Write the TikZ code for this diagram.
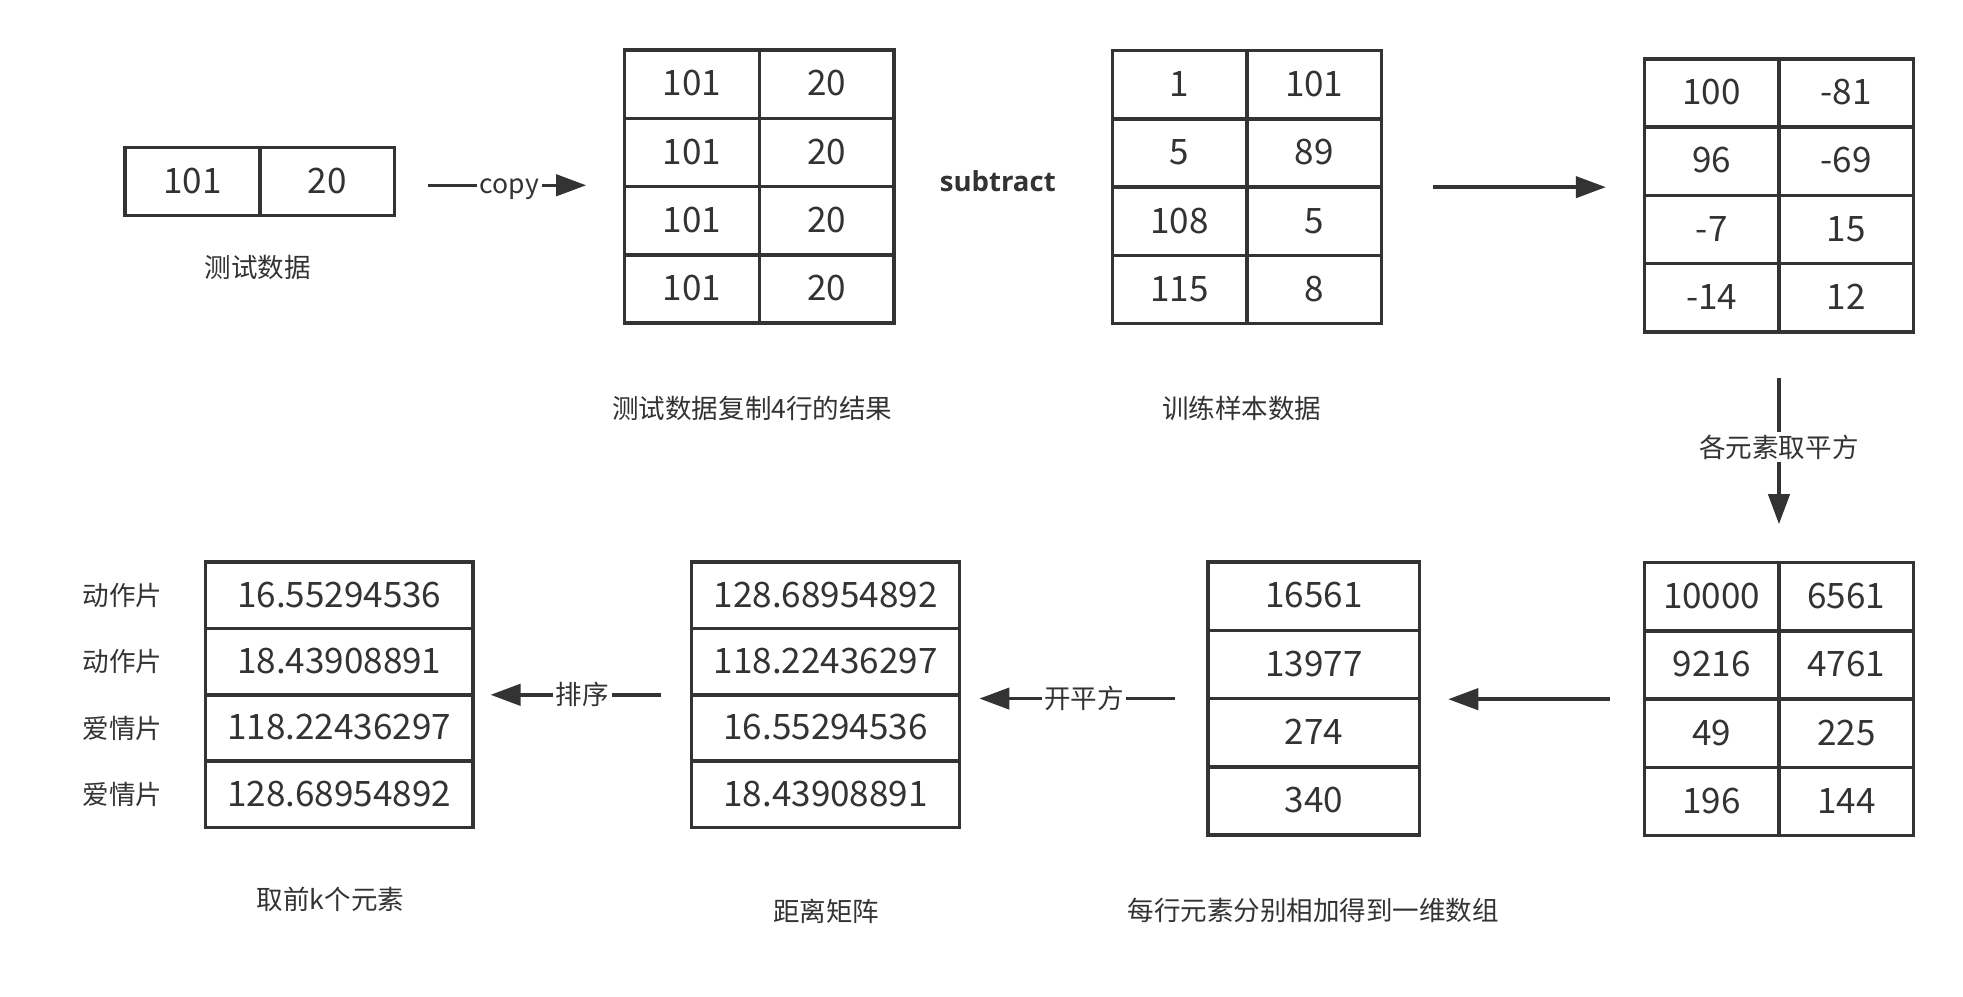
\documentclass[tikz,border=0pt]{standalone}
\usepackage{fontspec}
\newfontfamily\cjk{Noto Sans CJK SC}
\newfontfamily\latinfont{Open Sans}
\usetikzlibrary{matrix, arrows.meta, positioning}
\definecolor{ink}{HTML}{333333}
\tikzset{
  num_font/.style = {font=\cjk\fontsize{14}{16}\selectfont},
  label_font/.style = {font=\cjk\fontsize{10.6}{12}\selectfont},
  bold_font/.style = {font=\latinfont\bfseries\fontsize{11}{13}\selectfont}
}
\tikzset{
  cell/.style = {num_font, draw=ink, text=ink, line width=1.4pt, inner sep=0, outer sep=0,
    anchor=center, text height=9.4pt, text depth=0pt,
    minimum width=53.75pt, minimum height=27.25pt},
  wide_cell/.style = {cell, minimum width=107pt, minimum height=26.5pt},
  mid_cell/.style = {cell, minimum width=84.5pt},
  table/.style = {matrix of nodes, inner sep=0, column sep=-1.4pt, row sep=-1.4pt, nodes={cell}},
  table_wide/.style = {table, nodes={wide_cell}},
  table_mid/.style = {table, nodes={mid_cell}},
  caption/.style = {label_font, text=ink, inner sep=0},
  flow/.style = {draw=ink, line width=1.4pt, -{Triangle[length=12pt, width=8.5pt]}},
  on_line/.style = {label_font, text=ink, fill=white, inner sep=1pt, midway}
}
\begin{document}
\begin{tikzpicture}[x=0.5pt, y=-0.5pt]
    \useasboundingbox (0,0) rectangle (1568,795.6);

    % Upper row
    \matrix[table] (test) at (207.5,145) {
        101 & 20 \\
    };
    \matrix[table] (copied) at (606.5,149) {
        101 & 20 \\
        101 & 20 \\
        101 & 20 \\
        101 & 20 \\
    };
    \node[bold_font, text=ink] (subtract) at (797,145) {subtract};
    \matrix[table] (train) at (996,149.5) {
        1   & 101 \\
        5   & 89  \\
        108 & 5   \\
        115 & 8   \\
    };
    \matrix[table] (diff) at (1421,156) {
        100 & -81 \\
        96  & -69 \\
        -7  & 15  \\
        -14 & 12  \\
    };

    % Lower row
    \matrix[table] (sqr) at (1421,558.5) {
        10000 & 6561 \\
        9216  & 4761 \\
        49    & 225  \\
        196   & 144  \\
    };
    \matrix[table_mid] (rowsum) at (1049.5,558) {
        16561 \\
        13977 \\
        274   \\
        340   \\
    };
    \matrix[table_wide] (dist) at (659.5,555) {
        128.68954892 \\
        118.22436297 \\
        16.55294536  \\
        18.43908891  \\
    };
    \matrix[table_wide] (topk) at (271,555) {
        16.55294536  \\
        18.43908891  \\
        118.22436297 \\
        128.68954892 \\
    };

    % Captions
    \node[caption] (test_cap) at (206,214) {测试数据};
    \node[caption] (copied_cap) at (601,326) {测试数据复制4行的结果};
    \node[caption] (train_cap) at (992,326) {训练样本数据};
    \node[caption] (rowsum_cap) at (1049,727) {每行元素分别相加得到一维数组};
    \node[caption] (dist_cap) at (660,728) {距离矩阵};
    \node[caption] (topk_cap) at (264,718) {取前k个元素};

    % Class labels
    \node[caption, left=17pt of topk-1-1] (cls_1) {动作片};
    \node[caption, left=17pt of topk-2-1] (cls_2) {动作片};
    \node[caption, left=17pt of topk-3-1] (cls_3) {爱情片};
    \node[caption, left=17pt of topk-4-1] (cls_4) {爱情片};

    % Arrows
    \draw[flow, shorten <=12.5pt, shorten >=14.5pt] ([yshift=-1.5pt]test.east) -- ([yshift=-1.5pt]test.east -| copied.west)
        node[on_line, yshift=-1.5pt] (copy_lbl) {copy};
    \draw[flow, shorten <=19.5pt, shorten >=14.5pt] (train.east) -- (train.east -| diff.west);
    \draw[flow, shorten <=17.5pt, shorten >=14.5pt] (diff.south) -- (sqr.north)
        node[on_line] (square_lbl) {各元素取平方};
    \draw[flow, shorten <=13pt, shorten >=10.5pt] (sqr.west) -- (sqr.west -| rowsum.east);
    \draw[flow, shorten <=12.5pt, shorten >=7pt] (rowsum.west) -- (rowsum.west -| dist.east)
        node[on_line] (sqrt_lbl) {开平方};
    \draw[flow, shorten <=11.5pt, shorten >=6pt] (dist.west) -- (dist.west -| topk.east)
        node[on_line] (sort_lbl) {排序};
\end{tikzpicture}
\end{document}
